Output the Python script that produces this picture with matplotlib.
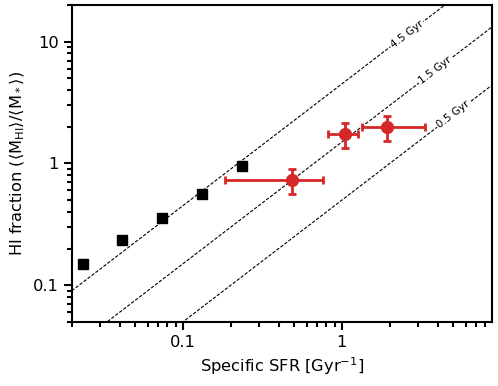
import numpy as np
import matplotlib
matplotlib.use("Agg")
import matplotlib.pyplot as plt

# Black squares
sq_x = [0.0234, 0.0417, 0.0744, 0.132, 0.235]
sq_y = [0.150, 0.234, 0.354, 0.563, 0.95]

# Red points with error bars
red_x = [0.485, 1.04, 1.92]
red_y = [0.73, 1.73, 2.0]
red_xlo = [0.183, 0.824, 1.34]
red_xhi = [0.766, 1.27, 3.31]
red_ylo = [0.563, 1.34, 1.52]
red_yhi = [0.893, 2.13, 2.47]

# Depletion times (Gyr) and label positions (sSFR)
t_dep = [4.5, 1.5, 0.5]
t_labels = ["4.5 Gyr", "1.5 Gyr", "0.5 Gyr"]
t_label_x = [2.56, 3.86, 5.03]

fig = plt.figure(figsize=(4.98, 3.86), dpi=100)
ax = fig.add_axes([0.144, 0.166, 0.844, 0.821])
ax.set_xscale("log")
ax.set_yscale("log")
xlim = (0.02, 8.8)
ylim = (0.05, 20)
ax.set_xlim(*xlim)
ax.set_ylim(*ylim)

xx = np.logspace(np.log10(xlim[0]), np.log10(xlim[1]), 200)
for t in t_dep:
    ax.plot(xx, t * xx, ls=(0, (3, 1.5)), color="black", lw=0.8, zorder=1)

# rotation angle in display space
fig.canvas.draw()
p1 = ax.transData.transform((1.0, 1.0))
p2 = ax.transData.transform((2.0, 2.0))
ang = np.degrees(np.arctan2(p2[1] - p1[1], p2[0] - p1[0]))
for t, lab, lx in zip(t_dep, t_labels, t_label_x):
    ax.text(lx, t * lx, lab, rotation=ang, rotation_mode="anchor",
            ha="center", va="center", fontsize=7.5, zorder=2,
            bbox=dict(facecolor="white", edgecolor="none", pad=1.0))

ax.plot(sq_x, sq_y, "s", color="black", ms=7, zorder=3)

xerr = [np.array(red_x) - np.array(red_xlo), np.array(red_xhi) - np.array(red_x)]
yerr = [np.array(red_y) - np.array(red_ylo), np.array(red_yhi) - np.array(red_y)]
ax.errorbar(red_x, red_y, xerr=xerr, yerr=yerr, fmt="o", color="#d62728",
            ms=8.5, elinewidth=2, capsize=3, capthick=2, zorder=4)

ax.set_xticks([0.1, 1])
ax.set_xticklabels(["0.1", "1"])
ax.set_yticks([0.1, 1, 10])
ax.set_yticklabels(["0.1", "1", "10"])
for s in ax.spines.values():
    s.set_linewidth(1.5)
ax.tick_params(which="major", length=6, width=1.5, labelsize=11.7)
ax.tick_params(which="minor", length=3.5, width=1.5)

ax.set_xlabel(r"Specific SFR [Gyr$^{-1}$]", fontsize=11.7)
ax.set_ylabel(r"HI fraction ($\langle\mathrm{M}_{\mathrm{HI}}\rangle/\langle\mathrm{M}_*\rangle$)", fontsize=11.7)

fig.savefig("out.png", dpi=100)
